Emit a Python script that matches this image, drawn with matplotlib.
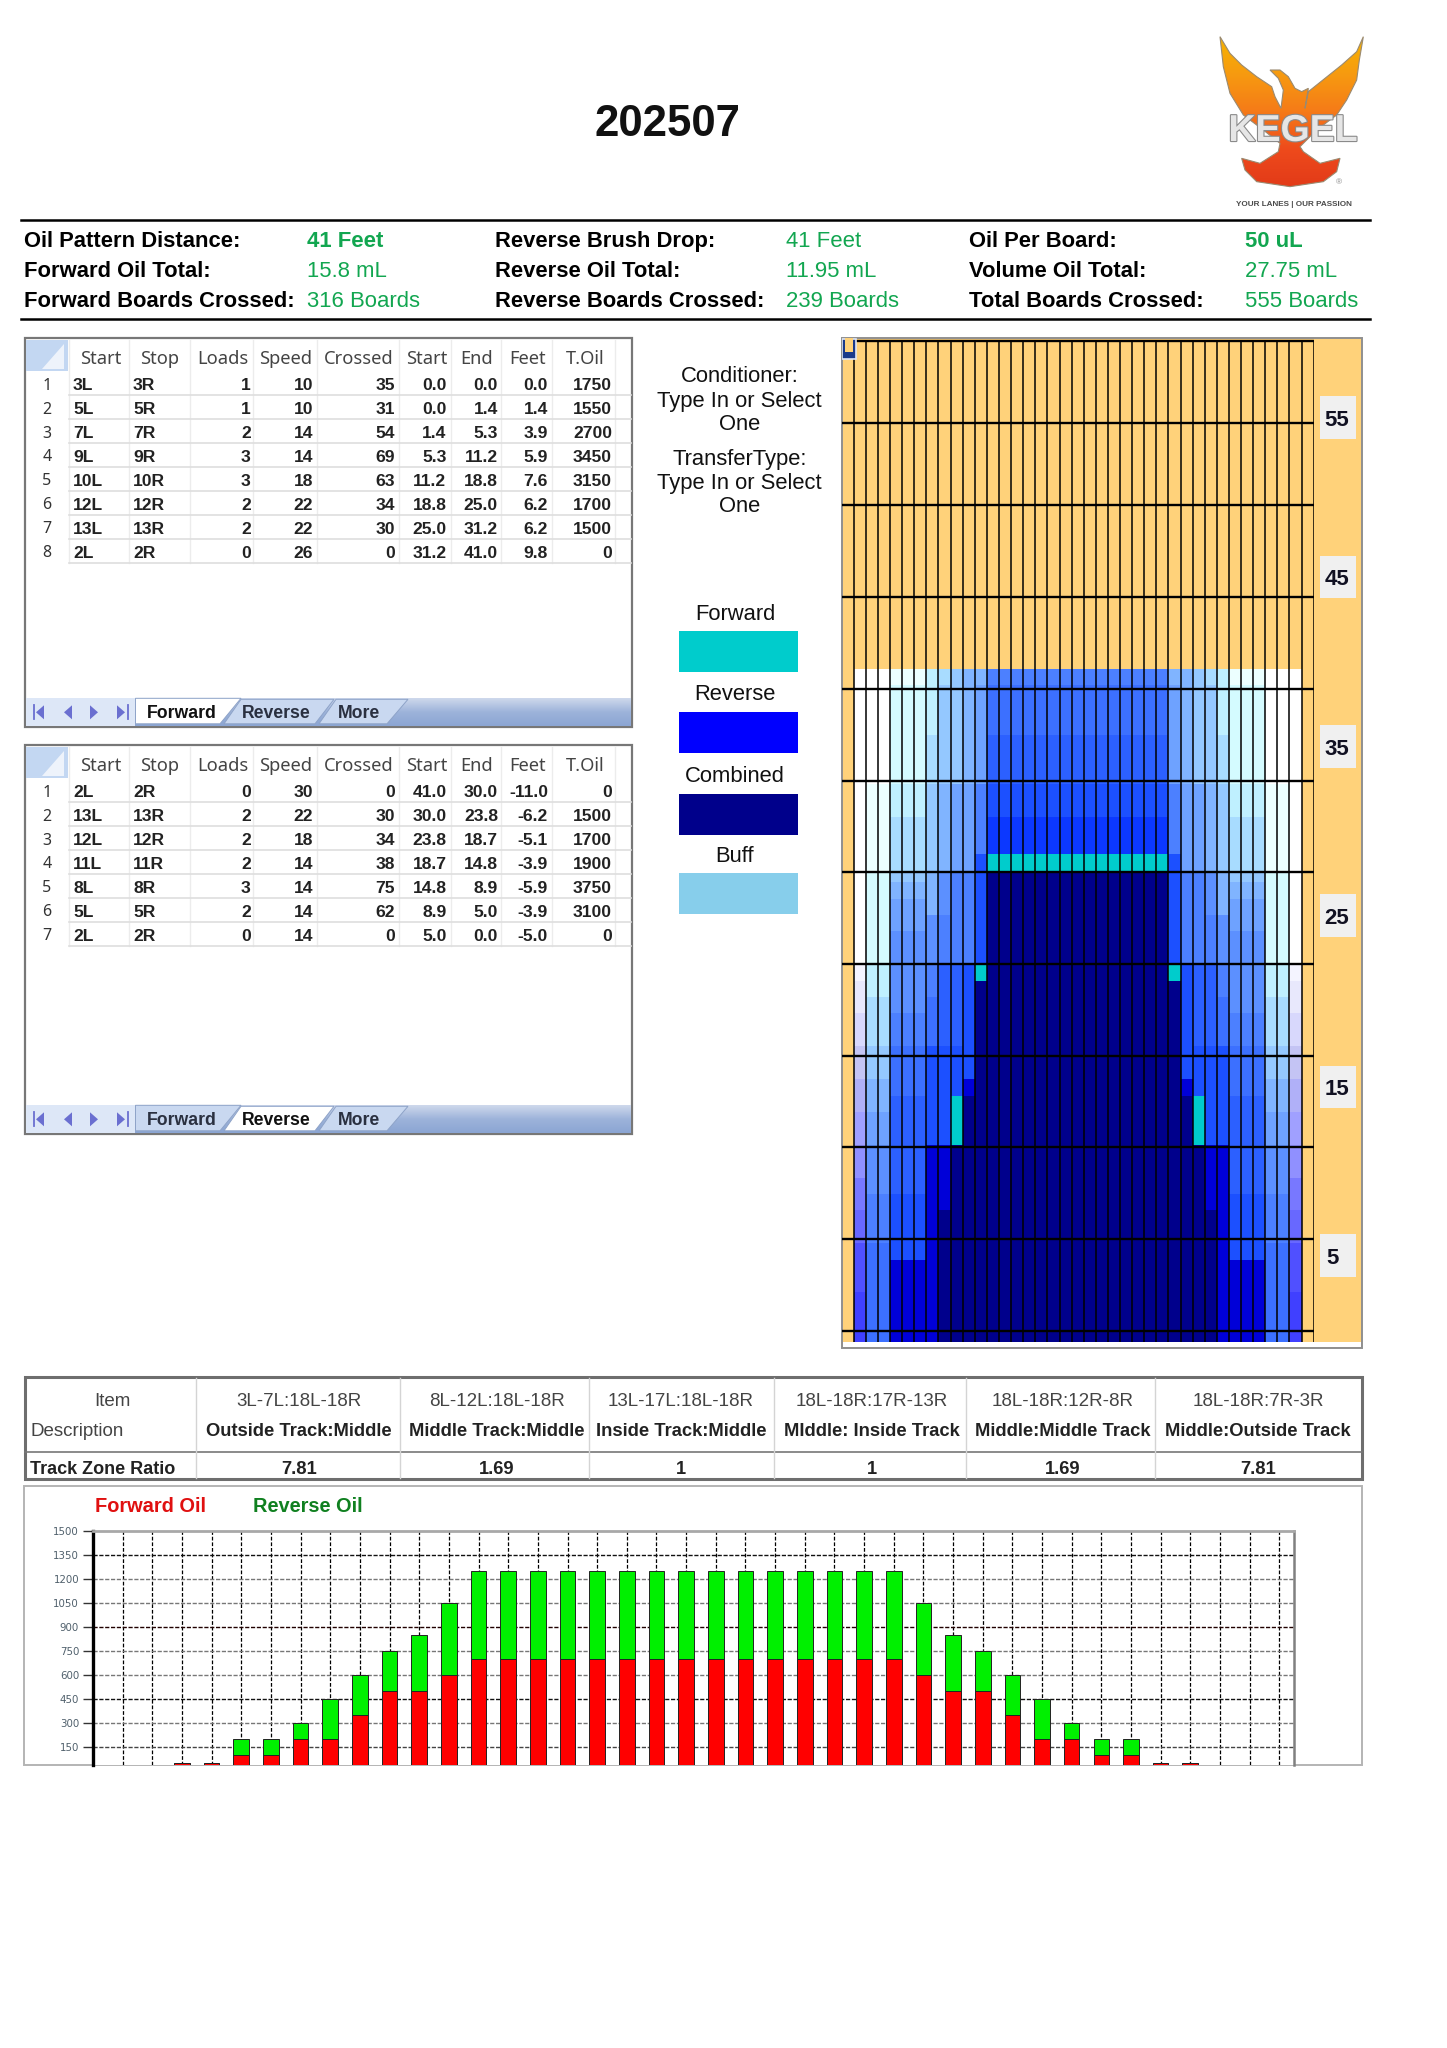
import numpy as np
import matplotlib
matplotlib.use("Agg")
import matplotlib.pyplot as plt
from matplotlib import font_manager
from matplotlib.colors import ListedColormap, LinearSegmentedColormap
from matplotlib.patches import Rectangle, Polygon
import matplotlib.patheffects as pe

W, H = 1447, 2048
plt.rcParams['font.family'] = ['Liberation Sans', 'DejaVu Sans']
installed = {f.name for f in font_manager.fontManager.ttflist}
narrow = 'Liberation Sans Narrow' if 'Liberation Sans Narrow' in installed else 'Liberation Sans'

# header block
info_labels = [["Oil Pattern Distance:", "Forward Oil Total:", "Forward Boards Crossed:"],
               ["Reverse Brush Drop:", "Reverse Oil Total:", "Reverse Boards Crossed:"],
               ["Oil Per Board:", "Volume Oil Total:", "Total Boards Crossed:"]]
info_values = [["41 Feet", "15.8 mL", "316 Boards"],
               ["41 Feet", "11.95 mL", "239 Boards"],
               ["50 uL", "27.75 mL", "555 Boards"]]

# lane program tables
headers = ["Start", "Stop", "Loads", "Speed", "Crossed", "Start", "End", "Feet", "T.Oil"]

fwd_start = ["3L", "5L", "7L", "9L", "10L", "12L", "13L", "2L"]
fwd_stop = ["3R", "5R", "7R", "9R", "10R", "12R", "13R", "2R"]
fwd_loads = [1, 1, 2, 3, 3, 2, 2, 0]
fwd_speed = [10, 10, 14, 14, 18, 22, 22, 26]
fwd_crossed = [35, 31, 54, 69, 63, 34, 30, 0]
fwd_from = ["0.0", "0.0", "1.4", "5.3", "11.2", "18.8", "25.0", "31.2"]
fwd_end = ["0.0", "1.4", "5.3", "11.2", "18.8", "25.0", "31.2", "41.0"]
fwd_feet = ["0.0", "1.4", "3.9", "5.9", "7.6", "6.2", "6.2", "9.8"]
fwd_oil = [1750, 1550, 2700, 3450, 3150, 1700, 1500, 0]

rev_start = ["2L", "13L", "12L", "11L", "8L", "5L", "2L"]
rev_stop = ["2R", "13R", "12R", "11R", "8R", "5R", "2R"]
rev_loads = [0, 2, 2, 2, 3, 2, 0]
rev_speed = [30, 22, 18, 14, 14, 14, 14]
rev_crossed = [0, 30, 34, 38, 75, 62, 0]
rev_from = ["41.0", "30.0", "23.8", "18.7", "14.8", "8.9", "5.0"]
rev_end = ["30.0", "23.8", "18.7", "14.8", "8.9", "5.0", "0.0"]
rev_feet = ["-11.0", "-6.2", "-5.1", "-3.9", "-5.9", "-3.9", "-5.0"]
rev_oil = [0, 1500, 1700, 1900, 3750, 3100, 0]

# middle legend
note_lines = ["Conditioner:", "Type In or Select", "One", "TransferType:", "Type In or Select", "One"]
legend_names = ["Forward", "Reverse", "Combined", "Buff"]
legend_colors = ["#00CCCC", "#0000FF", "#00008B", "#87CEEB"]

# track zone table
zone_item = ["3L-7L:18L-18R", "8L-12L:18L-18R", "13L-17L:18L-18R", "18L-18R:17R-13R", "18L-18R:12R-8R", "18L-18R:7R-3R"]
zone_desc = ["Outside Track:Middle", "Middle Track:Middle", "Inside Track:Middle", "MIddle: Inside Track", "Middle:Middle Track", "Middle:Outside Track"]
zone_ratio = ["7.81", "1.69", "1", "1", "1.69", "7.81"]

# oil graph, boards 3 to 37 on the graph's x axis
graph_boards = list(range(3, 38))
graph_forward = [50, 50, 100, 100, 200, 200, 350, 500, 500, 600,
                 700, 700, 700, 700, 700, 700, 700, 700, 700, 700, 700, 700, 700, 700, 700,
                 600, 500, 500, 350, 200, 200, 100, 100, 50, 50]
graph_reverse = [0, 0, 100, 100, 100, 250, 250, 250, 350, 450,
                 550, 550, 550, 550, 550, 550, 550, 550, 550, 550, 550, 550, 550, 550, 550,
                 450, 350, 250, 250, 250, 100, 100, 100, 0, 0]
graph_ticks = [150, 300, 450, 600, 750, 900, 1050, 1200, 1350, 1500]

# lane colours: 0-15 white to navy, 16 forward-only cyan, 17-27 lavender of board 2
lane_palette = ["#ffffff", "#ecffff", "#d4fbff", "#bff0ff", "#a8dcff", "#94c8ff", "#80b4ff", "#6ea2ff",
                "#5c90ff", "#4c80ff", "#3c70ff", "#2c60ff", "#1c50ff", "#0c38ff", "#0000d8", "#00008c",
                "#00cccc", "#f4f4ff", "#e8e8fc", "#d8d8fc", "#c4c4f4", "#b0b0f8", "#a0a0ff", "#9090ff",
                "#7878ff", "#6868ff", "#5050ff", "#4040ff"]

# colour level per foot row, bottom of the lane first
board_2 = [27, 27, 27, 26, 26, 26, 25, 25, 24, 24, 23, 23, 22, 22, 21, 21, 20, 20, 19, 19, 18, 18, 17,
           0, 0, 0, 0, 0, 0, 0, 0, 0, 0, 0, 0, 0, 0, 0, 0, 0, 0]
board_3 = [10, 10, 10, 10, 10, 10, 9, 9, 9, 8, 8, 8, 7, 7, 6, 6, 5, 5, 4, 4, 4, 3, 3,
           2, 2, 2, 2, 2, 2, 1, 1, 1, 1, 1, 0, 0, 0, 0, 0, 0, 0]
board_5 = [14, 14, 14, 14, 14, 12, 12, 12, 12, 11, 11, 11, 11, 11, 11, 10, 10, 10, 9, 9, 8, 8, 8,
           8, 8, 7, 7, 6, 5, 4, 4, 4, 3, 3, 2, 2, 2, 2, 2, 2, 1]
board_8 = [14, 14, 14, 14, 14, 14, 14, 14, 14, 14, 14, 14, 12, 12, 12, 12, 12, 12, 10, 10, 10, 9, 9,
           8, 8, 8, 6, 6, 6, 5, 5, 5, 5, 5, 4, 4, 4, 3, 3, 3, 3]
board_9 = [15, 15, 15, 15, 15, 15, 15, 15, 14, 14, 14, 14, 12, 12, 12, 12, 12, 12, 11, 11, 11, 11, 11,
           9, 9, 9, 8, 8, 8, 6, 6, 6, 6, 6, 5, 5, 5, 5, 5, 5, 4]
board_10 = [15, 15, 15, 15, 15, 15, 15, 15, 15, 15, 15, 15, 16, 16, 16, 12, 12, 12, 11, 11, 11, 11, 11,
            9, 9, 9, 9, 9, 9, 7, 7, 7, 7, 7, 5, 5, 5, 5, 5, 5, 5]
board_11 = [15, 15, 15, 15, 15, 15, 15, 15, 15, 15, 15, 15, 15, 15, 15, 14, 12, 12, 12, 12, 12, 12, 12,
            9, 9, 9, 9, 9, 9, 7, 7, 7, 7, 7, 6, 6, 6, 6, 6, 6, 6]
board_12 = [15, 15, 15, 15, 15, 15, 15, 15, 15, 15, 15, 15, 15, 15, 15, 15, 15, 15, 15, 15, 15, 15, 16,
            12, 12, 12, 12, 12, 12, 12, 9, 9, 9, 9, 7, 7, 7, 7, 7, 7, 6]
board_mid = [15, 15, 15, 15, 15, 15, 15, 15, 15, 15, 15, 15, 15, 15, 15, 15, 15, 15, 15, 15, 15, 15, 15,
             15, 15, 15, 15, 15, 15, 16, 13, 13, 12, 12, 11, 11, 11, 10, 10, 10, 9]
row_edges = list(range(29)) + [28.6, 29.7] + list(range(31, 42))
line_rows = [0.65, 6.26, 11.86, 17.4, 23.0, 28.6, 34.2, 39.8, 45.4, 51.0, 56.0, 61.0]
lane_labels = ["55", "45", "35", "25", "15", "5"]


fig = plt.figure(figsize=(W / 100, H / 100), dpi=100, facecolor="white")


def px_axes(left, top, right, bottom, z=1):
    ax = fig.add_axes([left / W, 1 - bottom / H, (right - left) / W, (bottom - top) / H], zorder=z)
    return ax


page = px_axes(0, 0, W, H, z=0)
page.set_xlim(0, W)
page.set_ylim(H, 0)
page.axis("off")


def gradient(ax, colors, extent, clip=None, z=2):
    cm = LinearSegmentedColormap.from_list("g", colors)
    g = np.linspace(0, 1, 128).reshape(-1, 1)
    im = ax.imshow(g, cmap=cm, extent=extent, aspect="auto", zorder=z, origin="upper")
    if clip is not None:
        im.set_clip_path(clip)
    ax.set_xlim(0, W)
    ax.set_ylim(H, 0)
    return im


# ---- title and logo ----
page.text(667, 125, "202507", fontsize=31.5, fontweight="bold", ha="center", va="center", color="#111111")

logo_pts = [(60, 50), (90, 100), (125, 135), (170, 170), (215, 200), (225, 230), (243, 265), (250, 210), (235, 175),
            (210, 150), (240, 150), (265, 170), (285, 205), (305, 215), (325, 205), (315, 265), (325, 215), (375, 175),
            (425, 135), (470, 95), (490, 50), (478, 120), (470, 180), (440, 240), (410, 285), (350, 330), (300, 380),
            (310, 395), (360, 430), (420, 415), (410, 455), (370, 485), (270, 500), (170, 485), (135, 450), (125, 415),
            (180, 430), (235, 395), (240, 370), (190, 330), (130, 285), (90, 220), (70, 140)]
logo_xy = [(1200 + x / 3, 20 + y / 3) for x, y in logo_pts]
logo_poly = Polygon(logo_xy, closed=True, facecolor="none", edgecolor="#9a8a70", lw=0.8, zorder=3)
page.add_patch(logo_poly)
gradient(page, ["#f6b400", "#f79a10", "#f57a18", "#ee4a1c", "#e23a18"], (1220, 1364, 188, 36), clip=logo_poly)
page.text(1293, 131, "KEGEL", fontsize=27, fontweight="bold", ha="center", va="center", color="#e6e6e6", zorder=4,
          path_effects=[pe.withStroke(linewidth=1.6, foreground="#8a8a8a")])
page.text(1339, 183, "®", fontsize=6, ha="center", va="center", color="#8a8a8a", zorder=4)
page.text(1294, 205, "YOUR LANES | OUR PASSION", fontsize=5.9, fontweight="bold", ha="center", va="center",
          color="#4a4a4a", family=narrow)

# ---- info block ----
page.plot([21, 1370], [220, 220], color="black", lw=1.8)
page.plot([21, 1370], [319, 319], color="black", lw=1.8)
label_x = [23.5, 495, 969]
value_x = [307, 786, 1245]
row_y = [241.5, 271.5, 301.5]
for c in range(3):
    for r in range(3):
        page.text(label_x[c], row_y[r], info_labels[c][r], fontsize=15.8, fontweight="bold", va="center", color="black")
        bold = r == 0 and c != 1
        page.text(value_x[c], row_y[r], info_values[c][r], fontsize=15.9, va="center", color="#12a650",
                  fontweight="bold" if bold else "normal")

# ---- program tables ----
col_edges = [69, 129, 190, 253, 317, 399, 451, 501, 552, 615, 632]
head_x = [100.5, 159.5, 223, 286, 358.5, 427, 477, 528, 585]
right_x = [250.7, 313, 395, 446.5, 498, 548, 612]


def draw_table(y0, columns, active):
    top = 338.3 + y0
    page.add_patch(Rectangle((24.7, top), 607.3, 388.4, fc="white", ec="#777777", lw=1.6, zorder=1))
    page.add_patch(Rectangle((26, top + 2), 42, 31, fc="#c3d7f2", ec="none", zorder=2))
    page.add_patch(Polygon([(64, top + 6), (64, top + 31), (42, top + 31)], fc="#eef3fb", ec="none", zorder=3))
    n = len(columns[0])
    row_h = 23.9
    first = top + 33
    for e in col_edges[:-1]:
        page.plot([e, e], [top + 2, first + n * row_h], color="#ececec", lw=1.0, zorder=2)
    for i in range(n):
        yb = first + (i + 1) * row_h
        page.plot([69, 631], [yb, yb], color="#dedede", lw=1.2, zorder=2)
        yc = yb - row_h / 2 + 2.5
        page.text(47, yc, str(i + 1), fontsize=11.5, ha="center", va="center", color="#333333", zorder=4,
                  family="Noto Sans")
        page.text(73, yc, columns[0][i], fontsize=12.6, fontweight="bold", va="center", color="#222222", zorder=4)
        page.text(133, yc, columns[1][i], fontsize=12.6, fontweight="bold", va="center", color="#222222", zorder=4)
        for j, rx in enumerate(right_x):
            page.text(rx, yc, str(columns[j + 2][i]), fontsize=12.6, fontweight="bold", ha="right", va="center",
                      color="#222222", zorder=4)
    for name, hx in zip(headers, head_x):
        page.text(hx, top + 20.5, name, fontsize=13.2, ha="center", va="center", color="#444444", zorder=4,
                  family="Noto Sans")
    # tab strip
    tb, bt = top + 360, top + 387.5
    gradient(page, ["#cfd9ec", "#9db3da", "#8ba5d3"], (26, 631, bt, tb), z=2)
    page.add_patch(Rectangle((26, tb), 109, bt - tb, fc="#dde7f7", ec="none", zorder=3))
    tabs = {"Forward": [(135.5, tb), (135.5, bt - 2), (220, bt - 2), (241, tb)],
            "Reverse": [(224, bt - 2), (241, tb + 1), (334, tb + 1), (315, bt - 2)],
            "More": [(319, bt - 2), (336, tb + 1), (408, tb + 1), (387, bt - 2)]}
    for name, pts in tabs.items():
        page.add_patch(Polygon(pts, fc="white" if name == active else "#c9d8f0", ec="#8ea3c8", lw=0.7, zorder=4))
    for name, tx in zip(["Forward", "Reverse", "More"], [182, 276, 359]):
        page.text(tx, tb + 15, name, fontsize=12.7, fontweight="bold", ha="center", va="center", zorder=5,
                  color="#111111" if name == active else "#2a3040")
    nav = "#6a6fd0"
    ym = tb + 14
    page.add_patch(Polygon([(36, ym), (44, ym - 7), (44, ym + 7)], fc=nav, ec="none", zorder=5))
    page.plot([34, 34], [ym - 7, ym + 7], color=nav, lw=1.3, zorder=5)
    page.add_patch(Polygon([(64, ym), (72, ym - 7), (72, ym + 7)], fc=nav, ec="none", zorder=5))
    page.add_patch(Polygon([(98, ym), (90, ym - 7), (90, ym + 7)], fc=nav, ec="none", zorder=5))
    page.add_patch(Polygon([(125, ym), (117, ym - 7), (117, ym + 7)], fc=nav, ec="none", zorder=5))
    page.plot([128, 128], [ym - 7, ym + 7], color=nav, lw=1.3, zorder=5)


draw_table(0, [fwd_start, fwd_stop, fwd_loads, fwd_speed, fwd_crossed, fwd_from, fwd_end, fwd_feet, fwd_oil], "Forward")
draw_table(407, [rev_start, rev_stop, rev_loads, rev_speed, rev_crossed, rev_from, rev_end, rev_feet, rev_oil], "Reverse")

# ---- notes and colour key ----
for line, y in zip(note_lines, [377, 401, 424, 459, 483, 506]):
    page.text(739.5, y, line, fontsize=15.8, ha="center", va="center", color="#111111")
for name, color, ty, sy in zip(legend_names, legend_colors, [614.5, 695, 776.5, 857], [631, 712, 794, 873]):
    page.text(735, ty, name, fontsize=15.8, ha="center", va="center", color="#111111")
    page.add_patch(Rectangle((679, sy), 119, 41, fc=color, ec="none"))

# ---- lane map ----
page.add_patch(Rectangle((841.7, 337.6), 520.3, 1010, fc="#ffd27a", ec="#8f8f8f", lw=1.4, zorder=1))
page.add_patch(Rectangle((843, 1341.6), 518, 5, fc="white", ec="none", zorder=2))
label_boxes = [(396, 438.5), (555.5, 598), (725, 768), (894, 937), (1065.6, 1107.8), (1234, 1277)]
for txt, (t, b) in zip(lane_labels, label_boxes):
    page.add_patch(Rectangle((1319.6, t), 36.4, b - t, fc="#f0f0f0", ec="none", zorder=2))
    page.text(1326 if txt == "5" else 1337, (t + b) / 2 + 3, txt, fontsize=16, fontweight="bold",
              ha="left" if txt == "5" else "center", va="center", color="#111122", zorder=3, family=narrow)

lane = px_axes(841.7, 337.6, 1313.6, 1341.6, z=2)
lane.patch.set_alpha(0)
left_side = [board_2, board_3, board_3, board_5, board_5, board_5, board_8, board_9, board_10, board_11, board_12]
columns = left_side + [board_mid] * 15 + left_side[::-1]
levels = np.array(columns).T
lane.pcolormesh(np.arange(1, 39), row_edges, levels, cmap=ListedColormap(lane_palette),
                vmin=-0.5, vmax=len(lane_palette) - 0.5, shading="flat")
lane.set_xlim(0, 39)
lane.set_ylim(0, 61.2)
lane.axis("off")
lane.vlines(np.arange(1, 40), 0, 61, color="black", lw=1.1)
lane.hlines(line_rows, 0, 39, color="black", lw=1.7)
lane.add_patch(Rectangle((0.05, 59.9), 1.1, 1.2, fc="#1a3a8a", ec="#dfe6f5", lw=1.2, zorder=4))
lane.add_patch(Rectangle((0.3, 60.35), 0.6, 0.8, fc="#ffd27a", ec="none", zorder=5))

# ---- track zone table ----
page.add_patch(Rectangle((25, 1377), 1337, 102, fc="white", ec="#6e6e6e", lw=2.2, zorder=1))
page.plot([25, 1362], [1452, 1452], color="#777777", lw=1.2, zorder=2)
for x in [196, 400, 589, 774, 966, 1155]:
    page.plot([x, x], [1378, 1478], color="#d4d4d4", lw=1, zorder=2)
page.text(112, 1401, "Item", fontsize=13.5, ha="center", va="center", color="#444444", zorder=3)
page.text(30, 1432, "Description", fontsize=13.5, va="center", color="#444444", zorder=3)
page.text(30, 1469, "Track Zone Ratio", fontsize=13, fontweight="bold", va="center", color="#222222", zorder=3)
for cx, a, b, c in zip([299, 497, 681, 872, 1063, 1258], zone_item, zone_desc, zone_ratio):
    page.text(cx, 1401, a, fontsize=13.5, ha="center", va="center", color="#444444", zorder=3)
    page.text(cx, 1432, b, fontsize=13.2, fontweight="bold", ha="center", va="center", color="#222222", zorder=3)
    page.text(cx, 1469, c, fontsize=13.2, fontweight="bold", ha="center", va="center", color="#222222", zorder=3)

# ---- oil graph ----
page.add_patch(Rectangle((24.3, 1486), 1337.3, 279.3, fc="white", ec="#b4b4b4", lw=1.4, zorder=1))
page.text(95, 1507, "Forward Oil", fontsize=14.4, fontweight="bold", va="center", color="#e01010", zorder=3)
page.text(253, 1507, "Reverse Oil", fontsize=14.4, fontweight="bold", va="center", color="#108020", zorder=3)

graph = px_axes(93, 1530.7, 1293.8, 1765.3, z=2)
graph.set_xlim(0, 40.49)
graph.set_ylim(33.7, 1500)
for x in range(1, 41):
    graph.axvline(x, color="black", lw=0.9, ls=(0, (3, 1.5)), zorder=1)
for v, col in zip(graph_ticks[:-1], ["#444444", "#777777", "#111111", "#777777", "#777777", "#200000", "#777777", "#777777", "#111111"]):
    graph.axhline(v, color=col, lw=1.0, ls=(0, (3, 1.2)), zorder=1)
graph.bar(graph_boards, graph_forward, width=0.526, color="#ff0000", edgecolor="#222222", lw=0.7, zorder=2)
graph.bar(graph_boards, graph_reverse, bottom=graph_forward, width=0.526, color="#00f000", edgecolor="#222222", lw=0.7, zorder=2)
graph.set_xticks([])
graph.set_yticks(graph_ticks)
graph.tick_params(axis="y", labelsize=7.4, labelcolor="#50606c", color="#333333", length=7, width=1, pad=3)
for lab in graph.get_yticklabels():
    lab.set_family("DejaVu Sans")
graph.spines["left"].set_linewidth(2.4)
graph.spines["left"].set_color("black")
graph.spines["top"].set_color("#a8a8a8")
graph.spines["top"].set_linewidth(2)
graph.spines["right"].set_color("#808080")
graph.spines["right"].set_linewidth(1.8)
graph.spines["bottom"].set_visible(False)

fig.savefig("out.png", dpi=100)
